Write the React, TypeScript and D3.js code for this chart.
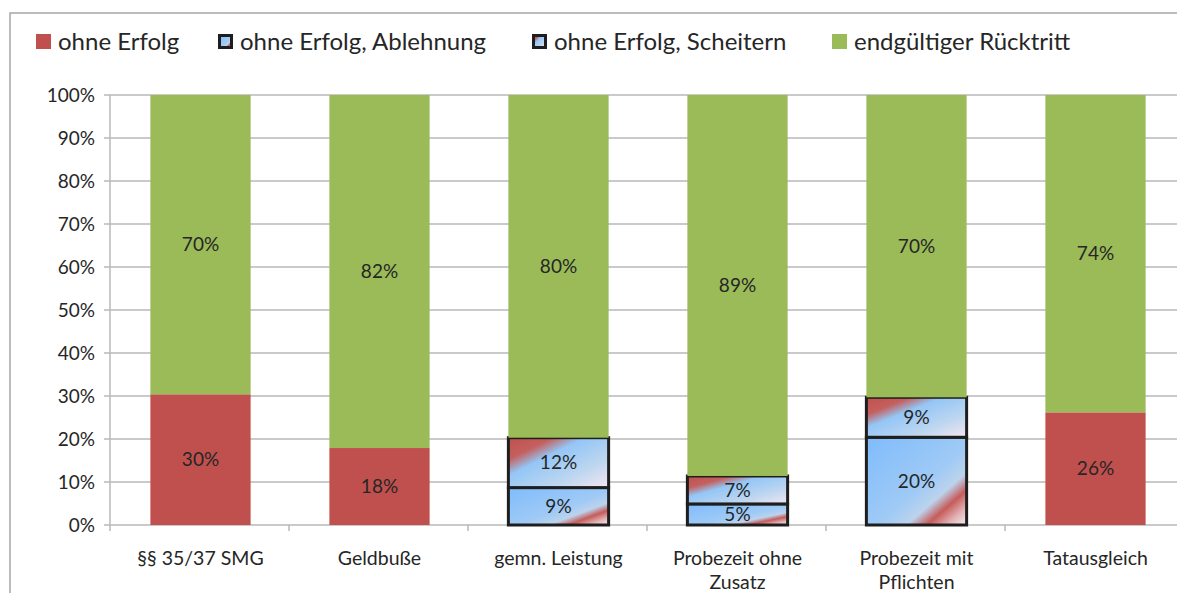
import React from 'react';
import * as d3 from 'd3';

const categories = [
  ['§§ 35/37 SMG'],
  ['Geldbuße'],
  ['gemn. Leistung'],
  ['Probezeit ohne', 'Zusatz'],
  ['Probezeit mit', 'Pflichten'],
  ['Tatausgleich'],
];

const seriesNames = ['ohne Erfolg', 'ohne Erfolg, Ablehnung', 'ohne Erfolg, Scheitern', 'endgültiger Rücktritt'];

// percentages per category
const ohneErfolg = [30.4, 17.9, 0, 0, 0, 26.2];
const ablehnung = [0, 0, 8.7, 4.9, 20.4, 0];
const scheitern = [0, 0, 11.6, 6.5, 9.3, 0];
const ruecktritt = [69.6, 82.1, 79.7, 88.6, 70.3, 73.8];

const yTicks = [0, 10, 20, 30, 40, 50, 60, 70, 80, 90, 100];

const W = 1177, H = 593;
const left = 110, top = 95, bottom = 525;
const font = 'Lato, "Open Sans", sans-serif';
const textColor = '#262626';
const gridColor = '#b9b9b9';

const App = () => {
  const x = d3.scaleBand<number>()
    .domain(d3.range(categories.length))
    .range([left + 1, left + 1 + 179 * 6])
    .paddingInner(0.44)
    .paddingOuter(0.22);
  const y = d3.scaleLinear().domain([0, 100]).range([bottom, top]);

  const rows = categories.map((c, i) => ({
    i,
    ohne: ohneErfolg[i],
    abl: ablehnung[i],
    sch: scheitern[i],
    end: ruecktritt[i],
  }));
  const keys = ['ohne', 'abl', 'sch', 'end'];
  const stacked = d3.stack<any>().keys(keys)(rows);

  const fills: Record<string, string> = {
    ohne: '#c0504d',
    abl: 'url(#gradAbl)',
    sch: 'url(#gradSch)',
    end: '#9bbb59',
  };
  const outlined: Record<string, boolean> = { abl: true, sch: true };

  const legendX = [36, 218, 532, 832];

  return (
    <svg width={W} height={H} style={{ position: 'absolute', left: 0, top: 0, fontFamily: font }}>
      <defs>
        <linearGradient id="gradAbl" x1="0" y1="0" x2="1" y2="1">
          <stop offset="0" stopColor="#7fbcfb" />
          <stop offset="0.55" stopColor="#9fcaf6" />
          <stop offset="0.7" stopColor="#bcd3ec" />
          <stop offset="0.8" stopColor="#c65c5a" />
          <stop offset="0.9" stopColor="#e3b3b6" />
          <stop offset="1" stopColor="#f6eef2" />
        </linearGradient>
        <linearGradient id="gradSch" x1="0" y1="0" x2="1" y2="1">
          <stop offset="0" stopColor="#c0504d" />
          <stop offset="0.22" stopColor="#c4605e" />
          <stop offset="0.38" stopColor="#94c6f6" />
          <stop offset="0.7" stopColor="#bcd6f0" />
          <stop offset="1" stopColor="#f4e6f2" />
        </linearGradient>
      </defs>
      <rect x={0} y={0} width={W} height={H} fill="#fff" />
      {/* chart frame */}
      <path d={`M10,${H} L10,13 L${W},13`} fill="none" stroke="#a6a6a6" strokeWidth={1.5} />

      {/* gridlines */}
      {yTicks.map(t => (
        <g key={t}>
          <line x1={left - 6} x2={W} y1={y(t)} y2={y(t)} stroke={gridColor} strokeWidth={1.5} />
          <text x={95} y={y(t)} dy="0.35em" textAnchor="end" fontSize={19} fill={textColor}>{t}%</text>
        </g>
      ))}
      <line x1={left} x2={left} y1={top} y2={bottom + 6} stroke={gridColor} strokeWidth={1.5} />
      {d3.range(1, categories.length + 1).map(k => (
        <line key={k} x1={left + 179 * k} x2={left + 179 * k} y1={bottom} y2={bottom + 6} stroke={gridColor} strokeWidth={1.5} />
      ))}

      {/* bars */}
      {stacked.map(layer => (
        <g key={layer.key}>
          {layer.map((d, i) => {
            const v = d[1] - d[0];
            if (v <= 0) return null;
            const x0 = x(i) as number;
            const bw = x.bandwidth();
            const yTop = y(layer.key === 'end' ? 100 : d[1]);
            const yBot = y(d[0]);
            return (
              <g key={i}>
                <rect
                  x={x0}
                  y={yTop}
                  width={bw}
                  height={yBot - yTop}
                  fill={fills[layer.key]}
                  stroke={outlined[layer.key] ? '#1e1e1e' : 'none'}
                  strokeWidth={outlined[layer.key] ? 3 : 0}
                />
                <text
                  x={x0 + bw / 2}
                  y={(yTop + yBot) / 2}
                  dy="0.35em"
                  textAnchor="middle"
                  fontSize={19}
                  fill={textColor}
                >
                  {Math.round(v)}%
                </text>
              </g>
            );
          })}
        </g>
      ))}

      {/* category labels */}
      {categories.map((lines, i) => (
        <text key={i} x={(x(i) as number) + x.bandwidth() / 2} y={565} textAnchor="middle" fontSize={19.5} fill={textColor}>
          {lines.map((l, j) => (
            <tspan key={j} x={(x(i) as number) + x.bandwidth() / 2} dy={j === 0 ? 0 : 24}>{l}</tspan>
          ))}
        </text>
      ))}

      {/* legend */}
      {seriesNames.map((name, k) => {
        const key = keys[k];
        const lx = legendX[k];
        return (
          <g key={name}>
            <rect
              x={outlined[key] ? lx + 1.5 : lx}
              y={outlined[key] ? 35.5 : 34}
              width={outlined[key] ? 12 : 15}
              height={outlined[key] ? 12 : 15}
              fill={fills[key]}
              stroke={outlined[key] ? '#1e1e1e' : 'none'}
              strokeWidth={outlined[key] ? 3 : 0}
            />
            <text x={lx + 22} y={42} dy="0.35em" fontSize={24} fill={textColor}>{name}</text>
          </g>
        );
      })}
    </svg>
  );
};

export default App;
